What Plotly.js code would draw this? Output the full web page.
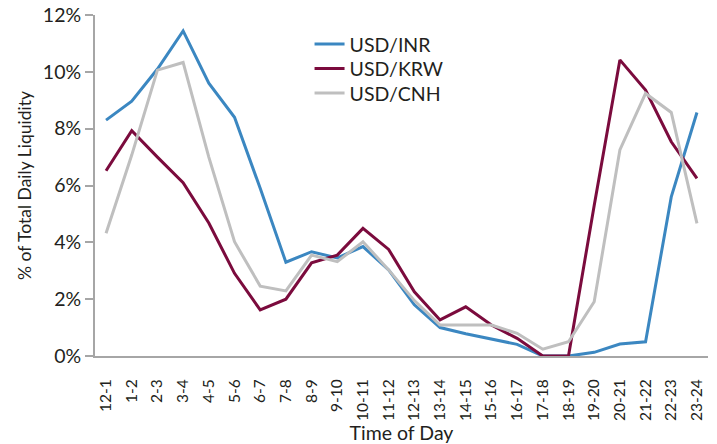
<!DOCTYPE html>
<html>
<head>
<meta charset="utf-8">
<script src="https://cdn.plot.ly/plotly-3.0.1.min.js"></script>
<style>html,body{margin:0;padding:0;background:#fff;}#chart{width:717px;height:444px;}</style>
</head>
<body>
<div id="chart"></div>
<script>
const categories = ["12-1","1-2","2-3","3-4","4-5","5-6","6-7","7-8","8-9","9-10","10-11","11-12","12-13","13-14","14-15","15-16","16-17","17-18","18-19","19-20","20-21","21-22","22-23","23-24"];
const usdInr = [8.30,8.97,10.1,11.44,9.6,8.4,5.9,3.3,3.67,3.45,3.85,3.03,1.8,1.0,0.78,0.59,0.41,0,0,0.13,0.42,0.5,5.6,8.57];
const usdKrw = [6.52,7.93,7.0,6.1,4.68,2.91,1.62,2.0,3.28,3.55,4.49,3.75,2.26,1.27,1.73,1.09,0.62,0,0,5.3,10.42,9.36,7.54,6.25];
const usdCnh = [4.32,7.07,10.06,10.33,7.0,4.02,2.46,2.29,3.55,3.32,4.02,3.03,1.95,1.09,1.09,1.09,0.8,0.24,0.5,1.91,7.25,9.24,8.57,4.67];
const yTicks = [0,2,4,6,8,10,12];
const yTickLabels = ["0%","2%","4%","6%","8%","10%","12%"];

const font = "Lato, 'Open Sans', sans-serif";
const mk = (name, y, color, leg) => ({
  x: categories, y: y, name: name, type: "scatter", mode: "lines",
  line: {color: color, width: 3}, legend: leg
});
const data = [
  mk("USD/INR", usdInr, "#3b87c1", "legend"),
  mk("USD/KRW", usdKrw, "#7b0b3d", "legend2"),
  mk("USD/CNH", usdCnh, "#bfbfbf", "legend3")
];
const legBase = (y) => ({x: 0.35, y: y, xanchor: "left", yanchor: "middle", bgcolor: "rgba(0,0,0,0)",
  font: {family: font, size: 19.5, color: "#231f20"}, itemwidth: 30});
const layout = {
  width: 717, height: 444,
  margin: {l: 95, r: 9, t: 15, b: 88},
  paper_bgcolor: "#fff", plot_bgcolor: "#fff",
  font: {family: font, color: "#231f20", size: 18},
  showlegend: true,
  legend: legBase(0.914),
  legend2: legBase(0.842),
  legend3: legBase(0.770),
  xaxis: {
    type: "category", range: [-0.43, 23.43], tickangle: -90,
    showline: true, linecolor: "#a6a6a6", linewidth: 2, showgrid: false, zeroline: false,
    ticks: "", ticklabelstandoff: 15, tickfont: {family: font, size: 15.5, color: "#231f20"},
    title: {text: "Time of Day", font: {family: font, size: 19.5, color: "#231f20"}, standoff: 2}
  },
  yaxis: {
    range: [0, 12], tickvals: yTicks, ticktext: yTickLabels,
    showline: true, linecolor: "#a6a6a6", linewidth: 2, showgrid: false, zeroline: false,
    ticks: "outside", ticklen: 8, tickwidth: 2, tickcolor: "#a6a6a6",
    tickfont: {family: font, size: 19.5, color: "#231f20"},
    title: {text: "% of Total Daily Liquidity", font: {family: font, size: 17.5, color: "#231f20"}, standoff: 7}
  }
};
Plotly.newPlot("chart", data, layout, {displayModeBar: false, staticPlot: true});
</script>
</body>
</html>
